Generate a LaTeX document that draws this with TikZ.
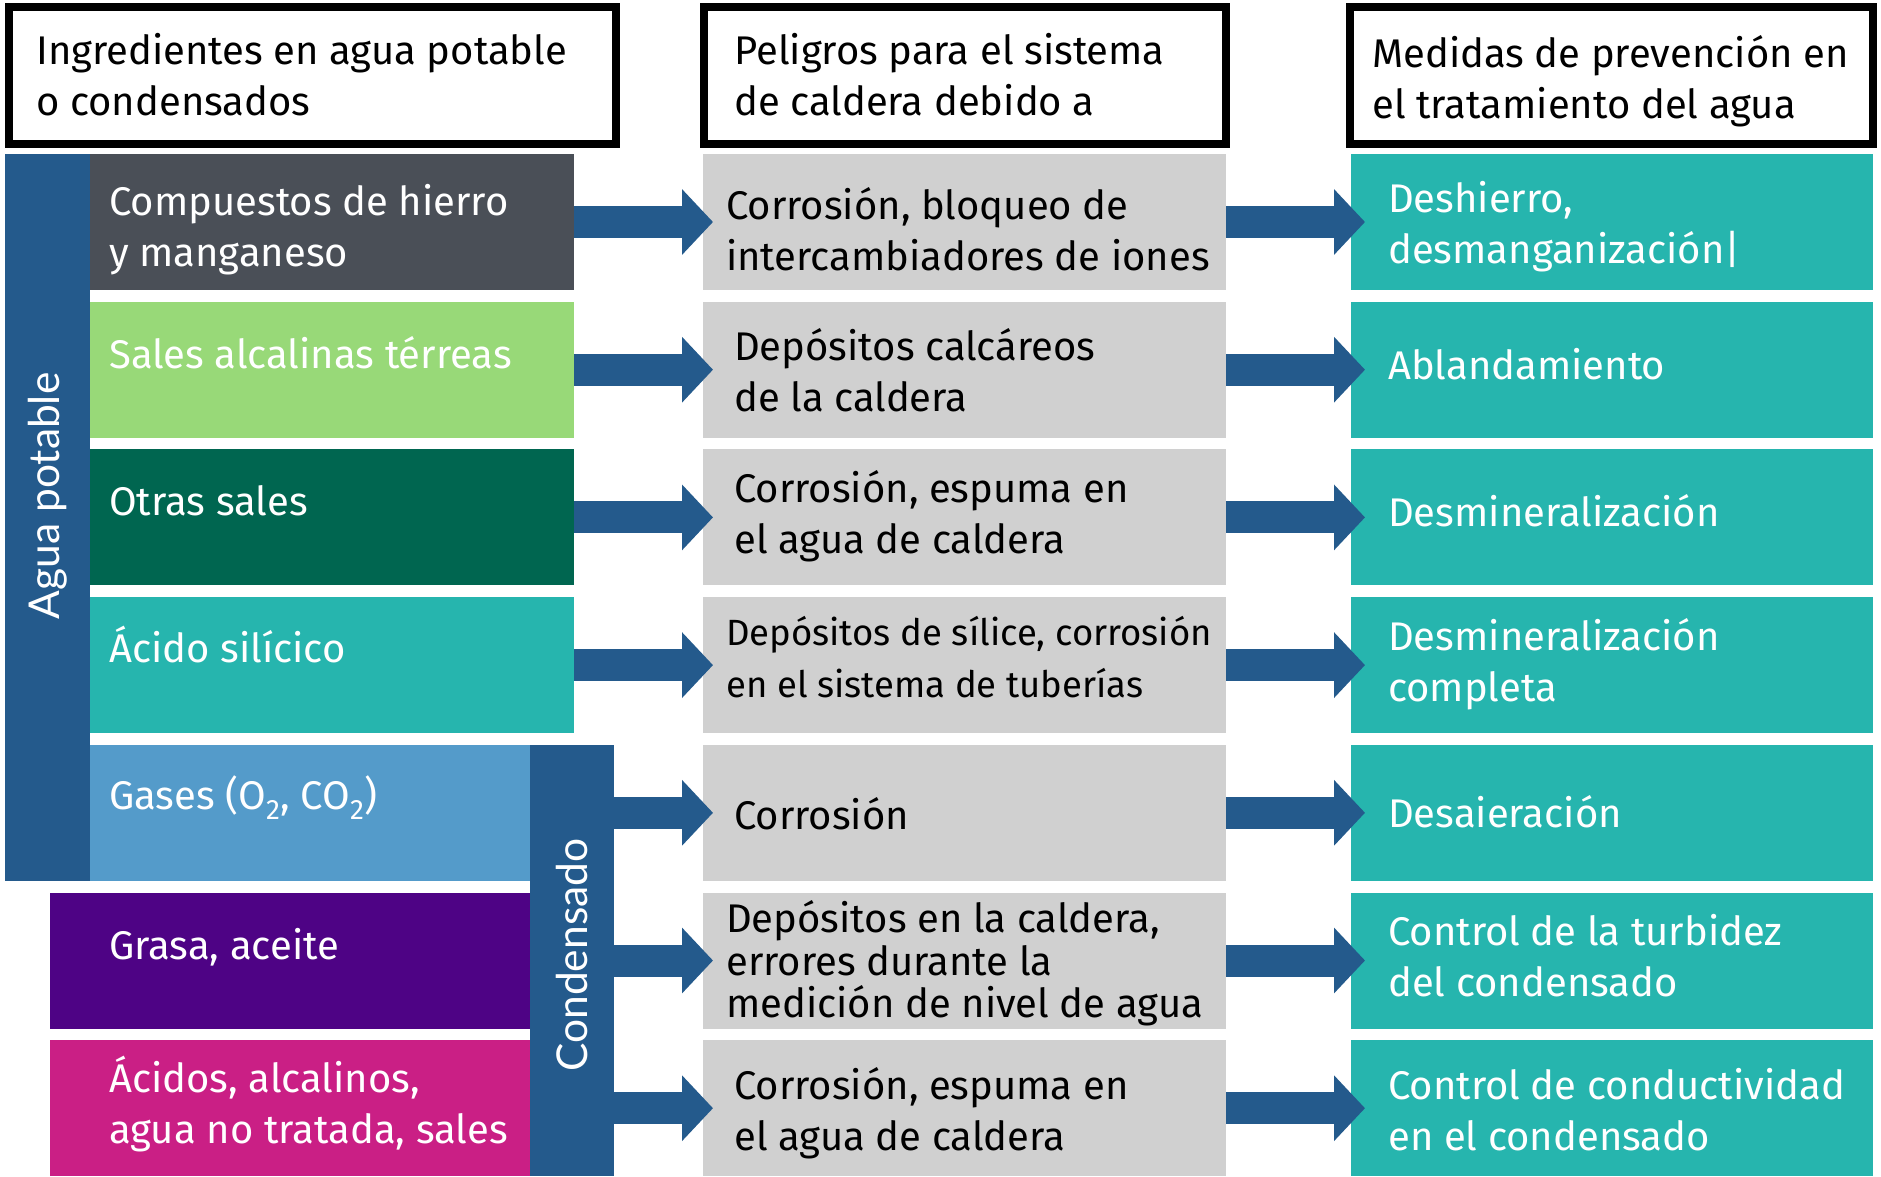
\documentclass[tikz,border=0pt]{standalone}
\usepackage{fontspec}
\setmainfont{Fira Sans}
\newfontfamily\vfont{Lato}
\usetikzlibrary{arrows.meta}
\definecolor{cblue}{HTML}{245A8C}
\definecolor{cdgray}{HTML}{4A4F57}
\definecolor{cgreen}{HTML}{98D978}
\definecolor{cdgreen}{HTML}{006650}
\definecolor{cteal}{HTML}{26B5AE}
\definecolor{clblue}{HTML}{549BCA}
\definecolor{cpurple}{HTML}{4E0385}
\definecolor{cmag}{HTML}{CA1F85}
\definecolor{clgray}{HTML}{D0D0D0}
\begin{document}
\begin{tikzpicture}[x=1pt,y=-1pt,
  box/.style={inner sep=0pt, outer sep=0pt, anchor=north west, draw=none},
  lbox/.style={box, minimum width=484pt, minimum height=136pt},
  mbox/.style={box, fill=clgray, minimum width=523pt, minimum height=136pt},
  rbox/.style={box, fill=cteal, minimum width=522pt, minimum height=136pt},
  txt/.style={inner sep=0pt, anchor=west, align=left, font=\fontsize{40}{51}\selectfont, execute at begin node=\strut, execute at end node=\strut},
  wtxt/.style={txt, text=white},
  hdr/.style={draw=black, line width=8pt, inner sep=0pt, outer sep=0pt, anchor=north west, minimum height=137pt},
  flow/.style={draw=cblue, line width=32pt, -{Triangle[length=31pt,width=64pt]}},
  vtxt/.style={rotate=90, text=white, inner sep=0pt, font=\vfont\fontsize{42.5}{50}\selectfont}]
\useasboundingbox (0,0) rectangle (1881,1176);
\fill[white] (0,0) rectangle (1881,1176);

% headers
\node[hdr, minimum width=607pt] (h1) at (9,7) {};
\node[hdr, minimum width=522pt] (h2) at (704,7) {};
\node[hdr, minimum width=523pt] (h3) at (1350,7) {};
\node[txt] (ht1) at (36,82.5) {Ingredientes en agua potable\\o condensados};
\node[txt] (ht2) at (734,82.5) {Peligros para el sistema\\de caldera debido a};
\node[txt] (ht3) at (1372,84.5) {Medidas de prevención en\\el tratamiento del agua};

% left column
\node[box, fill=cblue, minimum width=85pt, minimum height=726.8pt] (agua) at (5,154) {};
\node[lbox, fill=cdgray] (lb0) at (90,154) {};
\node[lbox, fill=cgreen] (lb1) at (90,301.7) {};
\node[lbox, fill=cdgreen] (lb2) at (90,449.4) {};
\node[lbox, fill=cteal] (lb3) at (90,597.1) {};
\node[box, fill=clblue, minimum width=440pt, minimum height=136pt] (lb4) at (90,744.8) {};
\node[box, fill=cpurple, minimum width=480pt, minimum height=136pt] (lb5) at (50,892.5) {};
\node[box, fill=cmag, minimum width=480pt, minimum height=136pt] (lb6) at (50,1040.2) {};
\node[box, fill=cblue, minimum width=84pt, minimum height=431.4pt] (cond) at (530,744.8) {};

\node[vtxt] (vt1) at (47.5,496) {Agua potable};
\node[vtxt] (vt2) at (572,955) {Condensado};

\node[wtxt] (lt0) at (109,233) {Compuestos de hierro\\y manganeso};
\node[wtxt] (lt1) at (109,358.5) {Sales alcalinas térreas};
\node[wtxt] (lt2) at (109,505) {Otras sales};
\node[wtxt] (lt3) at (109,651.5) {Ácido silícico};
\node[wtxt] (lt4) at (109,799) {Gases (O\textsubscript{2}, CO\textsubscript{2})};
\node[wtxt] (lt5) at (109,949) {Grasa, aceite};
\node[wtxt] (lt6) at (109,1107) {Ácidos, alcalinos,\\agua no tratada, sales};

% middle column
\node[mbox] (mb0) at (703,154) {};
\node[mbox] (mb1) at (703,301.7) {};
\node[mbox] (mb2) at (703,449.4) {};
\node[mbox] (mb3) at (703,597.1) {};
\node[mbox] (mb4) at (703,744.8) {};
\node[mbox] (mb5) at (703,892.5) {};
\node[mbox] (mb6) at (703,1040.2) {};

\node[txt] (mt0) at (726,237) {Corrosión, bloqueo de\\intercambiadores de iones};
\node[txt] (mt1) at (734,378) {Depósitos calcáreos\\de la caldera};
\node[txt] (mt2) at (734,520) {Corrosión, espuma en\\el agua de caldera};
\node[txt, font=\fontsize{36.5}{52}\selectfont] (mt3) at (726,665) {Depósitos de sílice, corrosión\\en el sistema de tuberías};
\node[txt] (mt4) at (734,819) {Corrosión};
\node[txt, font=\fontsize{40}{42.5}\selectfont] (mt5) at (726,965.5) {Depósitos en la caldera,\\errores durante la\\medición de nivel de agua};
\node[txt] (mt6) at (734,1117) {Corrosión, espuma en\\el agua de caldera};

% right column
\node[rbox] (rb0) at (1351,154) {};
\node[rbox] (rb1) at (1351,301.7) {};
\node[rbox] (rb2) at (1351,449.4) {};
\node[rbox] (rb3) at (1351,597.1) {};
\node[rbox] (rb4) at (1351,744.8) {};
\node[rbox] (rb5) at (1351,892.5) {};
\node[rbox] (rb6) at (1351,1040.2) {};

\node[wtxt] (rt0) at (1388,230.5) {Deshierro,\\desmanganización|};
\node[wtxt] (rt1) at (1388,369.5) {Ablandamiento};
\node[wtxt] (rt2) at (1388,516.5) {Desmineralización};
\node[wtxt] (rt3) at (1388,668) {Desmineralización\\completa};
\node[wtxt] (rt4) at (1388,817.5) {Desaieración};
\node[wtxt] (rt5) at (1388,963) {Control de la turbidez\\del condensado};
\node[wtxt] (rt6) at (1388,1117) {Control de conductividad\\en el condensado};

% arrows left -> middle
\draw[flow] (lb0.east) -- ([xshift=10pt]mb0.west);
\draw[flow] (lb1.east) -- ([xshift=10pt]mb1.west);
\draw[flow] (lb2.east) -- ([xshift=10pt]mb2.west);
\draw[flow] (lb3.east) -- ([xshift=10pt]mb3.west);
\draw[flow] (cond.east |- mb4.west) -- ([xshift=10pt]mb4.west);
\draw[flow] (cond.east |- mb5.west) -- ([xshift=10pt]mb5.west);
\draw[flow] (cond.east |- mb6.west) -- ([xshift=10pt]mb6.west);
% arrows middle -> right
\foreach \i in {0,...,6}{
  \draw[flow] (mb\i.east) -- ([xshift=14pt]rb\i.west);
}
\end{tikzpicture}
\end{document}
